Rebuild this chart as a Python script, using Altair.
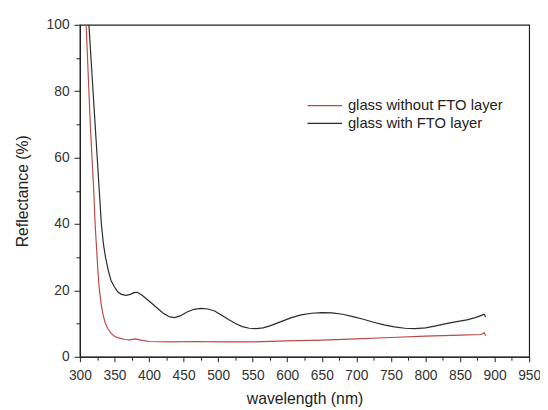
import altair as alt
import pandas as pd

# glass with FTO layer (black)
wl_fto = [313, 316, 319, 322, 325, 328, 331, 334, 337, 341, 345, 350, 355, 360, 367, 373, 378, 383,
          390, 400, 410, 420, 430, 437, 445, 455, 465, 475, 485, 495, 505, 515, 525, 535, 545, 555,
          565, 575, 590, 605, 620, 635, 650, 665, 680, 695, 710, 725, 740, 755, 770, 785, 800, 815,
          830, 845, 860, 872, 880, 885, 887]
r_fto = [100, 90, 80, 70, 60, 50, 40, 34, 30, 26, 23, 21, 19.5, 18.8, 18.5, 18.8, 19.3, 19.4,
         18.5, 16.8, 15.0, 13.2, 12.0, 11.8, 12.3, 13.5, 14.3, 14.6, 14.4, 13.8, 12.5, 11.2, 10.0, 9.1, 8.6, 8.5,
         8.7, 9.3, 10.5, 11.7, 12.6, 13.1, 13.3, 13.2, 12.8, 12.1, 11.3, 10.4, 9.6, 9.0, 8.6, 8.5, 8.7, 9.3,
         10.0, 10.6, 11.1, 11.8, 12.4, 12.8, 12.0]

# glass without FTO layer (red)
wl_glass = [309, 311, 313, 315, 317.5, 320, 322, 324, 326, 328, 331, 334, 337, 340, 345, 350, 357, 365,
            372, 380, 388, 400, 430, 470, 500, 550, 600, 650, 700, 750, 800, 850, 880, 885, 887]
r_glass = [100, 90, 80, 70, 60, 50, 40, 33, 26, 20.5, 15.5, 12.2, 10.0, 8.6, 7.1, 6.2, 5.6, 5.2,
           5.1, 5.4, 5.0, 4.6, 4.5, 4.6, 4.5, 4.5, 4.8, 5.0, 5.4, 5.8, 6.2, 6.5, 6.7, 7.2, 6.3]

series = ["glass without FTO layer", "glass with FTO layer"]
colors = ["#b94a48", "#2a2a2a"]

x_major = list(range(300, 951, 50))
x_minor = list(range(325, 951, 50))
y_major = list(range(0, 101, 20))
y_minor = list(range(10, 101, 20))

df = pd.concat([
    pd.DataFrame({"wavelength": wl_glass, "reflectance": r_glass, "series": series[0]}),
    pd.DataFrame({"wavelength": wl_fto, "reflectance": r_fto, "series": series[1]}),
])

FONT = "Liberation Sans"
xscale = alt.Scale(domain=[300, 950], nice=False, zero=False)
yscale = alt.Scale(domain=[0, 100], nice=False)

lines = alt.Chart(df).mark_line(clip=True, strokeWidth=1.2).encode(
    x=alt.X("wavelength:Q", scale=xscale,
            axis=alt.Axis(values=x_major, tickSize=5, labelPadding=7, labelFlush=False,
                          labelOverlap=False, orient="bottom",
                          title="wavelength (nm)", titlePadding=8)),
    y=alt.Y("reflectance:Q", scale=yscale,
            axis=alt.Axis(values=y_major, tickSize=6, labelPadding=5, labelFlush=False,
                          labelOverlap=False, orient="left",
                          title="Reflectance (%)", titlePadding=16)),
    color=alt.Color("series:N",
                    scale=alt.Scale(domain=series, range=colors),
                    sort=series,
                    legend=alt.Legend(title=None, orient="none", legendX=230, legendY=73,
                                      symbolType="stroke", symbolSize=1225, symbolStrokeWidth=1.2,
                                      labelFontSize=15, labelFont=FONT, labelColor="#222",
                                      labelOffset=5, rowPadding=0, clipHeight=18)),
)

minor = alt.Chart(df).mark_line(opacity=0).encode(
    x=alt.X("wavelength:Q", scale=xscale,
            axis=alt.Axis(values=x_minor, tickSize=3.5, labels=False, domain=False,
                          title=None, orient="bottom")),
    y=alt.Y("reflectance:Q", scale=yscale,
            axis=alt.Axis(values=y_minor, tickSize=4, labels=False, domain=False,
                          title=None, orient="left")),
    detail="series:N",
)

chart = alt.layer(lines, minor).resolve_axis(x="independent", y="independent").properties(
    width=456, height=337, autosize="none",
    padding={"left": 73, "top": 14, "right": 11, "bottom": 51},
).configure_view(
    stroke="#222", strokeWidth=1.2
).configure_axis(
    domainColor="#222", tickColor="#222", domainWidth=1.2, tickWidth=1,
    labelFont=FONT, labelFontSize=14, labelColor="#333",
    titleFont=FONT, titleFontSize=16, titleFontWeight="normal", titleColor="#222",
    grid=False,
)

chart.save("out.html", embed_options={"renderer": "svg", "actions": False})
